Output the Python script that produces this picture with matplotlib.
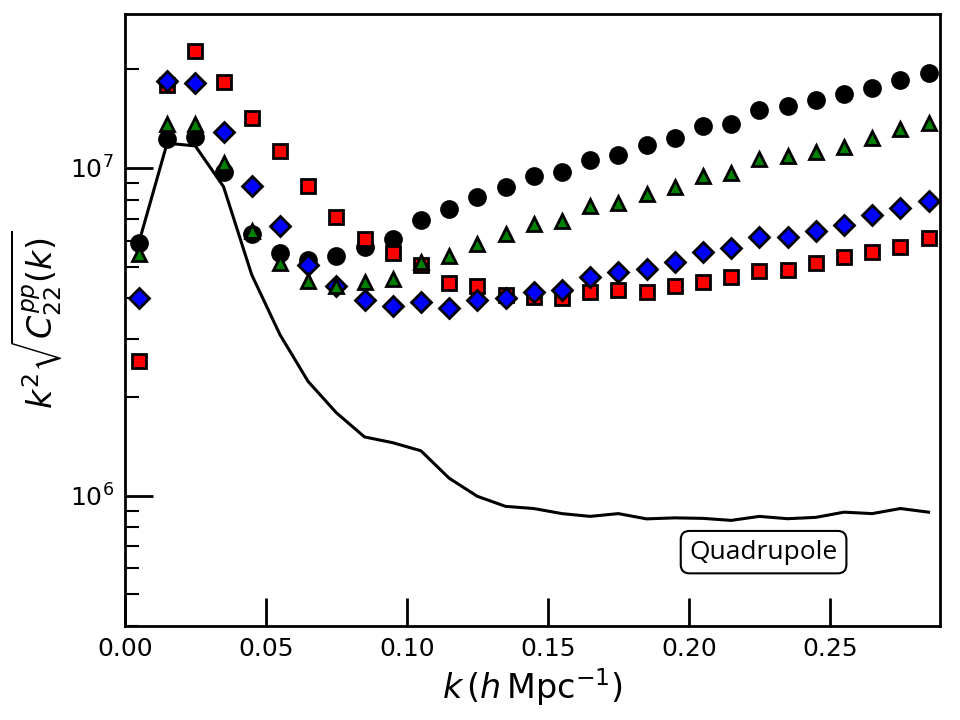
import numpy as np
import matplotlib
matplotlib.use("Agg")
import matplotlib.pyplot as plt
from matplotlib.ticker import LogLocator, MultipleLocator, NullFormatter

k = [0.005, 0.015, 0.025, 0.035, 0.045, 0.055, 0.065, 0.075, 0.085, 0.095,
     0.105, 0.115, 0.125, 0.135, 0.145, 0.155, 0.165, 0.175, 0.185, 0.195,
     0.205, 0.215, 0.225, 0.235, 0.245, 0.255, 0.265, 0.275, 0.285]

line_vals = [5.92e6, 1.19e7, 1.167e7, 8.77e6, 4.72e6, 3.10e6, 2.23e6, 1.79e6, 1.51e6, 1.45e6,
             1.37e6, 1.13e6, 9.95e5, 9.27e5, 9.13e5, 8.81e5, 8.64e5, 8.81e5, 8.49e5, 8.55e5,
             8.52e5, 8.40e5, 8.64e5, 8.50e5, 8.58e5, 8.90e5, 8.81e5, 9.13e5, 8.90e5]

circles = [5.92e6, 1.223e7, 1.24e7, 9.75e6, 6.29e6, 5.50e6, 5.24e6, 5.40e6, 5.75e6, 6.07e6,
           6.94e6, 7.48e6, 8.16e6, 8.75e6, 9.47e6, 9.70e6, 1.055e7, 1.093e7, 1.175e7, 1.237e7,
           1.346e7, 1.36e7, 1.50e7, 1.54e7, 1.61e7, 1.68e7, 1.75e7, 1.86e7, 1.95e7]

triangles = [5.47e6, 1.36e7, 1.36e7, 1.038e7, 6.44e6, 5.12e6, 4.53e6, 4.37e6, 4.48e6, 4.58e6,
             5.18e6, 5.37e6, 5.87e6, 6.28e6, 6.75e6, 6.89e6, 7.66e6, 7.82e6, 8.33e6, 8.74e6,
             9.45e6, 9.63e6, 1.068e7, 1.088e7, 1.12e7, 1.16e7, 1.23e7, 1.31e7, 1.37e7]

diamonds = [4.02e6, 1.845e7, 1.81e7, 1.29e7, 8.83e6, 6.67e6, 5.06e6, 4.35e6, 3.94e6, 3.80e6,
            3.91e6, 3.73e6, 3.94e6, 4.01e6, 4.18e6, 4.25e6, 4.66e6, 4.81e6, 4.92e6, 5.17e6,
            5.53e6, 5.71e6, 6.17e6, 6.17e6, 6.43e6, 6.70e6, 7.19e6, 7.54e6, 7.93e6]

squares = [2.57e6, 1.79e7, 2.28e7, 1.825e7, 1.418e7, 1.129e7, 8.81e6, 7.07e6, 6.07e6, 5.50e6,
           5.06e6, 4.45e6, 4.35e6, 4.10e6, 4.04e6, 4.01e6, 4.18e6, 4.25e6, 4.18e6, 4.35e6,
           4.50e6, 4.64e6, 4.83e6, 4.87e6, 5.12e6, 5.34e6, 5.53e6, 5.73e6, 6.11e6]

label_text = "Quadrupole"

fig = plt.figure(figsize=(9.6, 7.2), dpi=100)
ax = fig.add_axes([0.130, 0.1306, 0.849, 0.850])

ax.plot(k, line_vals, color='black', lw=2.2, zorder=2)
ax.plot(k, circles, 'o', color='black', ms=12, mec='black', mew=1.5, zorder=3)
ax.plot(k, squares, 's', color='red', ms=10.5, mec='black', mew=2, zorder=4)
ax.plot(k, diamonds, 'D', color='blue', ms=10, mec='black', mew=2, zorder=5)
ax.plot(k, triangles, '^', color='green', ms=10.5, mec='black', mew=2, zorder=6)

ax.set_yscale('log')
ax.set_xlim(0, 0.289)
ax.set_ylim(4.0e5, 2.95e7)

ax.xaxis.set_major_locator(MultipleLocator(0.05))
ax.xaxis.set_major_formatter(matplotlib.ticker.FormatStrFormatter('%.2f'))
ax.yaxis.set_major_locator(LogLocator(base=10))
ax.yaxis.set_minor_locator(LogLocator(base=10, subs=np.arange(2, 10)))
ax.yaxis.set_minor_formatter(NullFormatter())

ax.tick_params(which='major', direction='in', length=20, width=2, labelsize=18, pad=8)
ax.tick_params(which='minor', direction='in', length=10, width=1.5)
ax.tick_params(top=False, right=False)
for s in ax.spines.values():
    s.set_linewidth(2)

ax.set_xlabel(r'$k\,(h\,\mathrm{Mpc}^{-1})$', fontsize=24, labelpad=4)
ax.set_ylabel(r'$k^2\sqrt{C^{pp}_{22}(k)}$', fontsize=24, labelpad=4)

ax.text(0.2265, 6.72e5, label_text, fontsize=19, family=['Open Sans', 'DejaVu Sans'],
        ha='center', va='center',
        bbox=dict(boxstyle='round,pad=0.33', fc='white', ec='black', lw=1.5), zorder=7)

fig.savefig('out.png', dpi=100)
